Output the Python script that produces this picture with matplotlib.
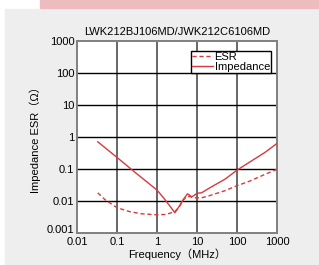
import matplotlib
matplotlib.use("Agg")
import matplotlib.pyplot as plt
import matplotlib.transforms as mtransforms
from matplotlib.patches import Rectangle

# datos
freq_z = [0.033, 0.1, 0.3, 1.0, 1.5, 2.0, 2.8, 3.5, 4.5, 5.8, 6.6, 7.4, 8.5, 10, 13, 20, 50, 100, 200, 500, 1000]
imp    = [0.71, 0.23, 0.074, 0.022, 0.012, 0.0075, 0.0043, 0.0065, 0.011, 0.0168, 0.015, 0.0135, 0.015, 0.0175, 0.018, 0.025, 0.048, 0.092, 0.16, 0.33, 0.63]
freq_r = [0.033, 0.05, 0.1, 0.2, 0.4, 1.0, 1.6, 2.2, 2.8, 3.6, 4.5, 5.5, 6.5, 8, 10, 13, 20, 50, 100, 200, 500, 1000]
esr    = [0.018, 0.011, 0.0062, 0.0047, 0.004, 0.0037, 0.0038, 0.0042, 0.0047, 0.0065, 0.0105, 0.0138, 0.0138, 0.0128, 0.0125, 0.0126, 0.0145, 0.021, 0.03, 0.041, 0.068, 0.098]
xticks = [0.01, 0.1, 1, 10, 100, 1000]
xlabels = ["0.01", "0.1", "1", "10", "100", "1000"]
yticks = [0.001, 0.01, 0.1, 1, 10, 100, 1000]
ylabels = ["0.001", "0.01", "0.1", "1", "10", "100", "1000"]

plt.rcParams['font.family'] = ['Liberation Sans', 'Noto Sans CJK JP', 'DejaVu Sans']
red = '#d8393c'

fig = plt.figure(figsize=(3.19, 2.65), dpi=100)
fig.patch.set_facecolor('white')
# fondo gris y banda rosada
fig.patches.append(Rectangle((5/319, 0), 1, 256/265, transform=fig.transFigure, color='#eeeeee', zorder=-10))
fig.patches.append(Rectangle((40/319, 257/265), 1, 8/265, transform=fig.transFigure, color='#ecbcbf', zorder=-10))

ax = fig.add_axes([77/319, 32/265, 200/319, 192/265])
ax.set_xscale('log')
ax.set_yscale('log')
ax.set_xlim(0.01, 1000)
ax.set_ylim(0.001, 1000)

for v in xticks[1:-1]:
    ax.axvline(v, color='#666666', lw=1.4, zorder=1)
for v in yticks[1:-1]:
    ax.axhline(v, color='black', lw=1.0, zorder=1)

ax.plot(freq_r, esr, color=red, lw=1.0, ls=(0, (3, 2)), label='ESR', zorder=3)
ax.plot(freq_z, imp, color=red, lw=1.0, label='Impedance', zorder=3)

ax.set_xticks(xticks)
ax.set_xticklabels(xlabels)
ax.set_yticks(yticks)
ax.set_yticklabels(ylabels)
ax.minorticks_off()
ax.tick_params(length=0, labelsize=8, pad=2)
ax.tick_params(axis='x', pad=3)
for s in ax.spines.values():
    s.set_color('#808080')
    s.set_linewidth(1.4)

# subir un poco la etiqueta 0.001 como en el original
lab0 = ax.get_yticklabels()[0]
lab0.set_transform(lab0.get_transform() + mtransforms.ScaledTranslation(0, 3/72, fig.dpi_scale_trans))

ax.set_title('LWK212BJ106MD/JWK212C6106MD', fontsize=8, pad=4)
ax.set_xlabel('Frequency（MHz）', fontsize=8, labelpad=1)
ax.set_ylabel('Impedance ESR（Ω）', fontsize=8, labelpad=4)

leg = ax.legend(loc='upper right', bbox_to_anchor=(0.97, 0.948), fontsize=8,
                handlelength=1.9, handletextpad=0.1, borderpad=0.1, labelspacing=0.0,
                borderaxespad=0, fancybox=False, framealpha=1)
leg.get_frame().set_edgecolor('black')
leg.get_frame().set_linewidth(1.0)

plt.savefig('out.png', dpi=100)
